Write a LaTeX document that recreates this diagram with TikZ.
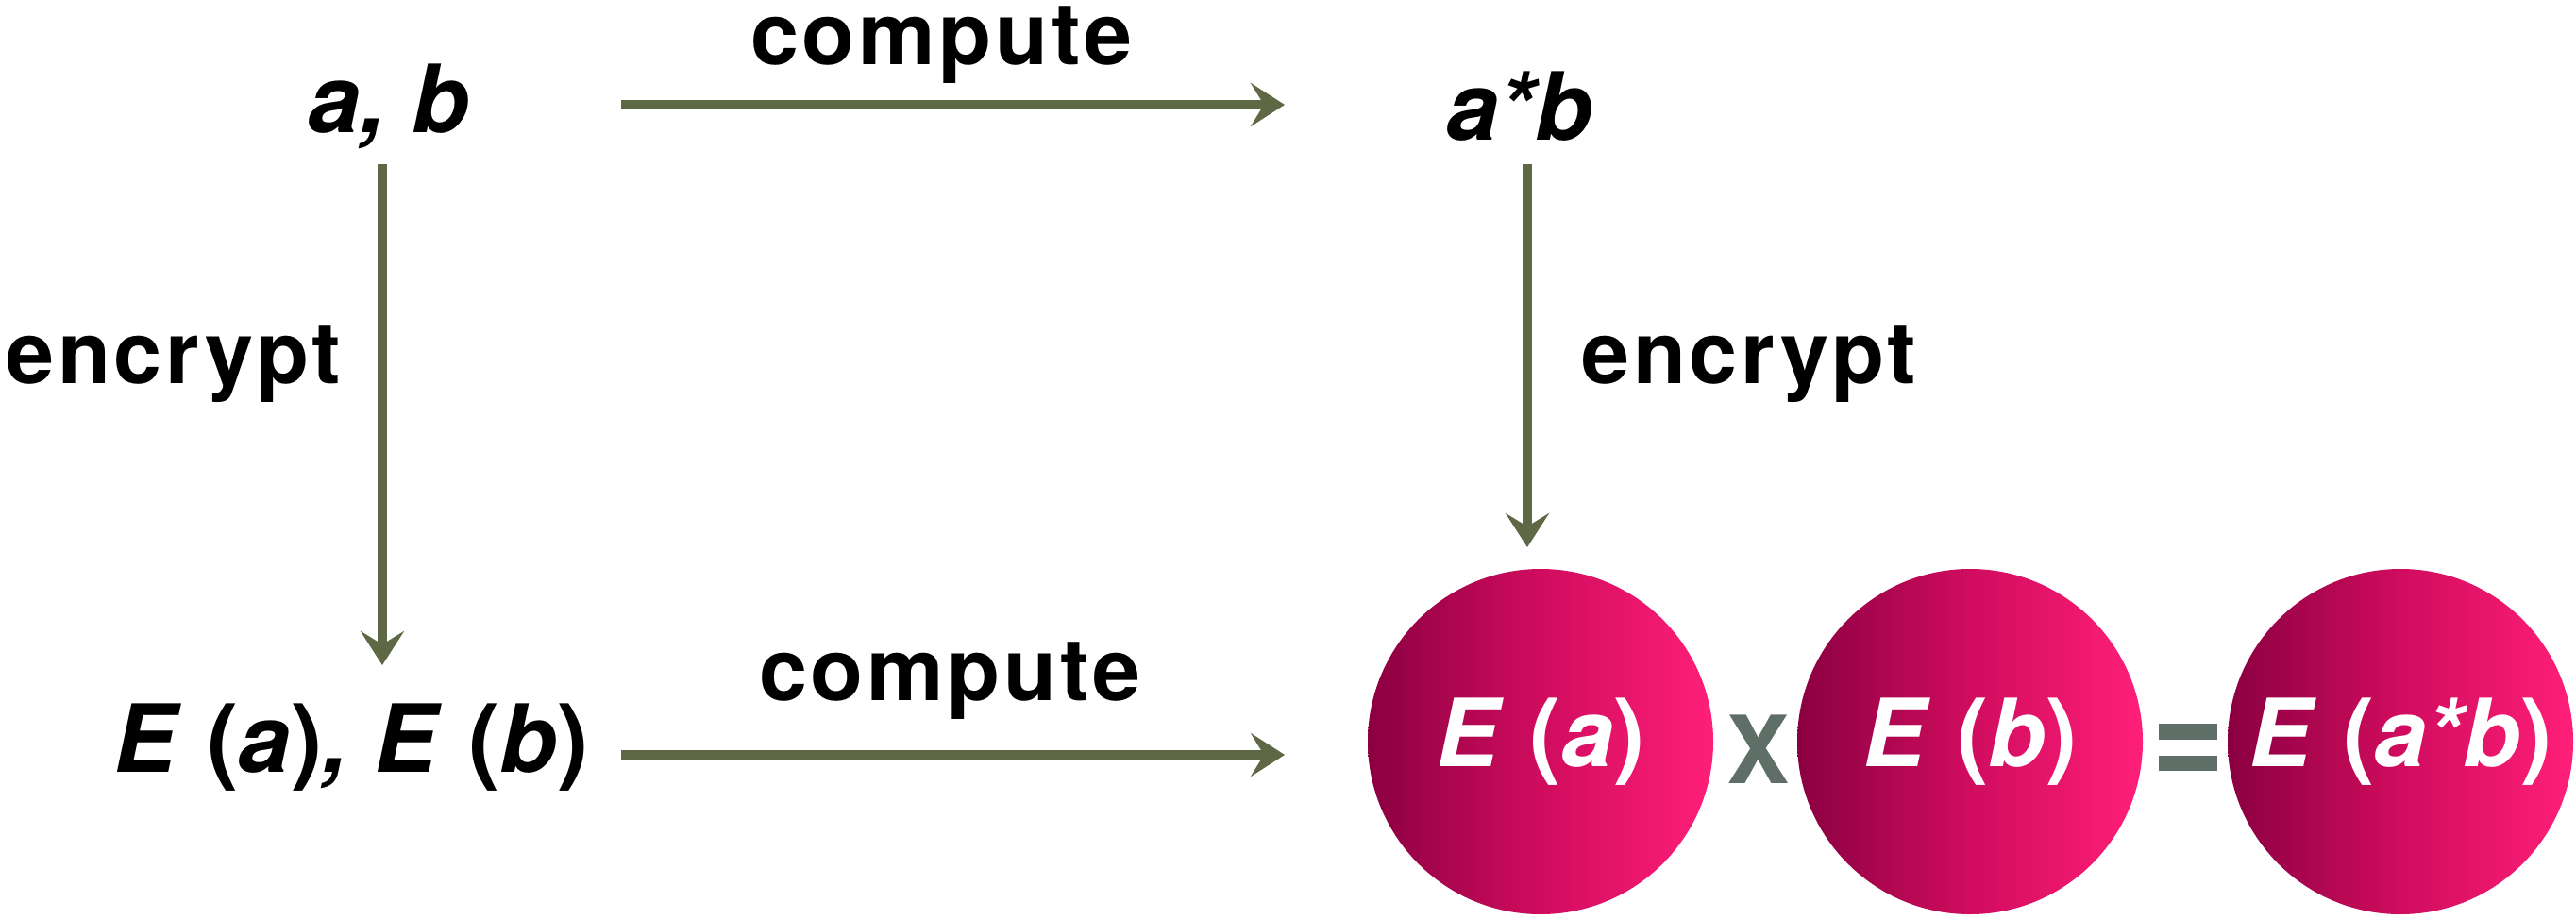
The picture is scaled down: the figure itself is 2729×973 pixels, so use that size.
\documentclass[tikz,border=0pt]{standalone}
\usepackage{fontspec}
\setmainfont{TeX Gyre Heros}
\newfontfamily\spaced[LetterSpace=4]{TeX Gyre Heros}
\usetikzlibrary{arrows.meta}
\definecolor{olive}{HTML}{5F6845}
\definecolor{grayg}{HTML}{5F6E66}
\definecolor{pinkL}{HTML}{8A0041}
\definecolor{pinkM}{HTML}{D00C5E}
\definecolor{pinkR}{HTML}{FF1F78}
\newcommand{\lp}{\textup{(}}
\newcommand{\rp}{\textup{)}}
\tikzset{
  arr/.style={draw=olive, line width=10bp, -{Stealth[length=36bp,width=46bp,inset=14bp]}},
  mathtxt/.style={font=\fontsize{100}{110}\selectfont\bfseries\itshape, inner sep=0pt},
  wordtxt/.style={font=\fontsize{92}{110}\selectfont\spaced\bfseries, inner sep=0pt},
  ball/.style={circle, minimum size=366bp, inner sep=0pt, left color=pinkL, right color=pinkR, middle color=pinkM, text=white, font=\fontsize{100}{110}\selectfont\bfseries\itshape}
}
\begin{document}
\begin{tikzpicture}[x=1bp,y=-1bp]
\useasboundingbox (0,0) rectangle (2729,973);
\node[mathtxt] (ab) at (412,113) {a, b};
\node[mathtxt] (astb) at (1610,113) {a*b};
\node[mathtxt] (EaEb) at (372,792) {E \lp a\rp, E \lp b\rp};
\node[wordtxt] (c1) at (997,48) {compute};
\node[wordtxt] (c2) at (1006,722) {compute};
\node[wordtxt] (e1) at (184,386) {encrypt};
\node[wordtxt] (e2) at (1853,386) {encrypt};
\coordinate (t1) at (658,111); \coordinate (t2) at (1361,111);
\coordinate (b1) at (658,800); \coordinate (b2) at (1361,800);
\coordinate (l1) at (405,174); \coordinate (l2) at (405,705);
\coordinate (r1) at (1618,174); \coordinate (r2) at (1618,580);
\draw[arr] (t1) -- (t2);
\draw[arr] (b1) -- (b2);
\draw[arr] (l1) -- (l2);
\draw[arr] (r1) -- (r2);
\node[ball] (ca) at (1632,786) {E \lp a\rp};
\node[ball] (cb) at (2087,786) {E \lp b\rp};
\node[ball] (cab) at (2543,786) {E \lp a*b\rp};
\node[text=grayg, font=\fontsize{100}{110}\selectfont\bfseries, inner sep=0pt] (x) at (1863,794) {X};
\fill[grayg] (2287,767) rectangle (2349,784);
\fill[grayg] (2287,801) rectangle (2349,817);
\end{tikzpicture}
\end{document}
